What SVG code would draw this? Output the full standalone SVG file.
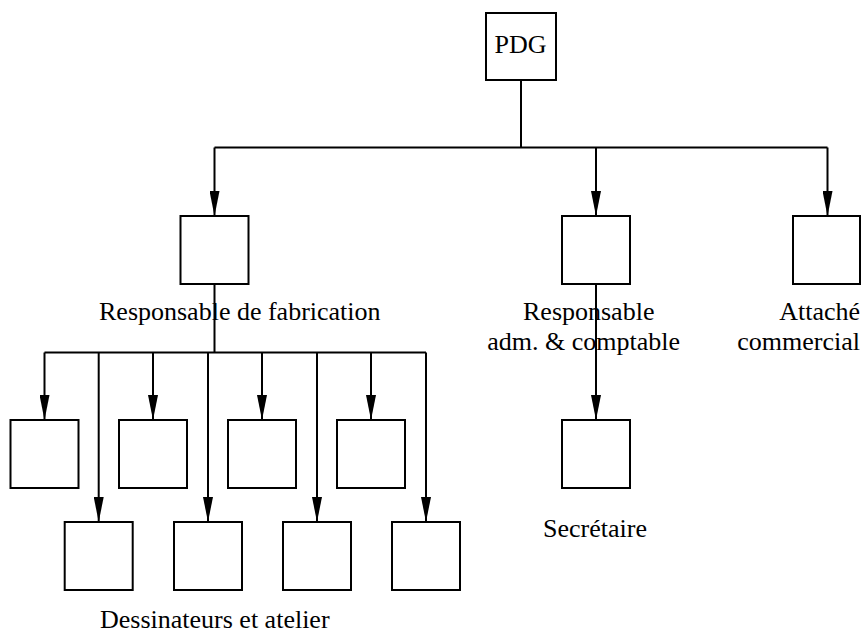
<svg xmlns="http://www.w3.org/2000/svg" width="861" height="633" viewBox="0 0 861 633">
  <style>
    .box { fill: #fff; stroke: #000; stroke-width: 2; }
    .conn { fill: none; stroke: #000; stroke-width: 2; }
    .arr { marker-end: url(#ah); }
    text { font-family: "Liberation Serif", "Times New Roman", serif; font-size: 26px; fill: #000; }
  </style>
  <defs>
    <marker id="ah" markerUnits="userSpaceOnUse" markerWidth="25" markerHeight="10" refX="25" refY="5" orient="auto">
      <path d="M0,0 L25,5 L0,10 z" fill="#000"/>
    </marker>
  </defs>
  <rect width="861" height="633" fill="#fff"/>
  <g id="connectors">
    <path class="conn" d="M521,80 V147.5"/>
    <path class="conn" d="M214.5,147.5 H827.5"/>
    <path class="conn arr" d="M214.5,147.5 V216"/>
    <path class="conn arr" d="M596,147.5 V216"/>
    <path class="conn arr" d="M827.5,147.5 V216"/>
    <path class="conn arr" d="M596,284 V420"/>
    <path class="conn" d="M214.5,284 V352.5"/>
    <path class="conn" d="M44.5,352.5 H426"/>
    <path class="conn arr" d="M44.5,352.5 V420"/>
    <path class="conn arr" d="M153,352.5 V420"/>
    <path class="conn arr" d="M262,352.5 V420"/>
    <path class="conn arr" d="M371,352.5 V420"/>
    <path class="conn arr" d="M98.7,352.5 V522"/>
    <path class="conn arr" d="M208,352.5 V522"/>
    <path class="conn arr" d="M317,352.5 V522"/>
    <path class="conn arr" d="M426,352.5 V522"/>
  </g>
  <g id="pdg">
    <rect class="box" x="486" y="13" width="70" height="67"/>
    <text x="520.5" y="52.5" text-anchor="middle">PDG</text>
  </g>
  <g id="resp-fabrication">
    <rect class="box" x="180.5" y="216" width="68" height="68"/>
    <text x="99" y="320">Responsable de fabrication</text>
  </g>
  <g id="resp-adm">
    <rect class="box" x="562" y="216" width="68" height="68"/>
    <text x="523" y="320">Responsable</text>
    <text x="680" y="350" text-anchor="end">adm. &amp; comptable</text>
  </g>
  <g id="attache">
    <rect class="box" x="793" y="216" width="67" height="68"/>
    <text x="860" y="320" text-anchor="end">Attaché</text>
    <text x="860" y="350" text-anchor="end">commercial</text>
  </g>
  <g id="secretaire">
    <rect class="box" x="562" y="420" width="68" height="68"/>
    <text x="543" y="537">Secrétaire</text>
  </g>
  <g id="atelier-1"><rect class="box" x="10.5" y="420" width="68" height="68"/></g>
  <g id="atelier-2"><rect class="box" x="119" y="420" width="68" height="68"/></g>
  <g id="atelier-3"><rect class="box" x="228" y="420" width="68" height="68"/></g>
  <g id="atelier-4"><rect class="box" x="337" y="420" width="68" height="68"/></g>
  <g id="atelier-5"><rect class="box" x="64.7" y="522" width="68" height="68"/></g>
  <g id="atelier-6"><rect class="box" x="174" y="522" width="68" height="68"/></g>
  <g id="atelier-7"><rect class="box" x="283" y="522" width="68" height="68"/></g>
  <g id="atelier-8"><rect class="box" x="392" y="522" width="68" height="68"/></g>
  <g id="label-dessinateurs">
    <text x="100" y="628">Dessinateurs et atelier</text>
  </g>
</svg>
